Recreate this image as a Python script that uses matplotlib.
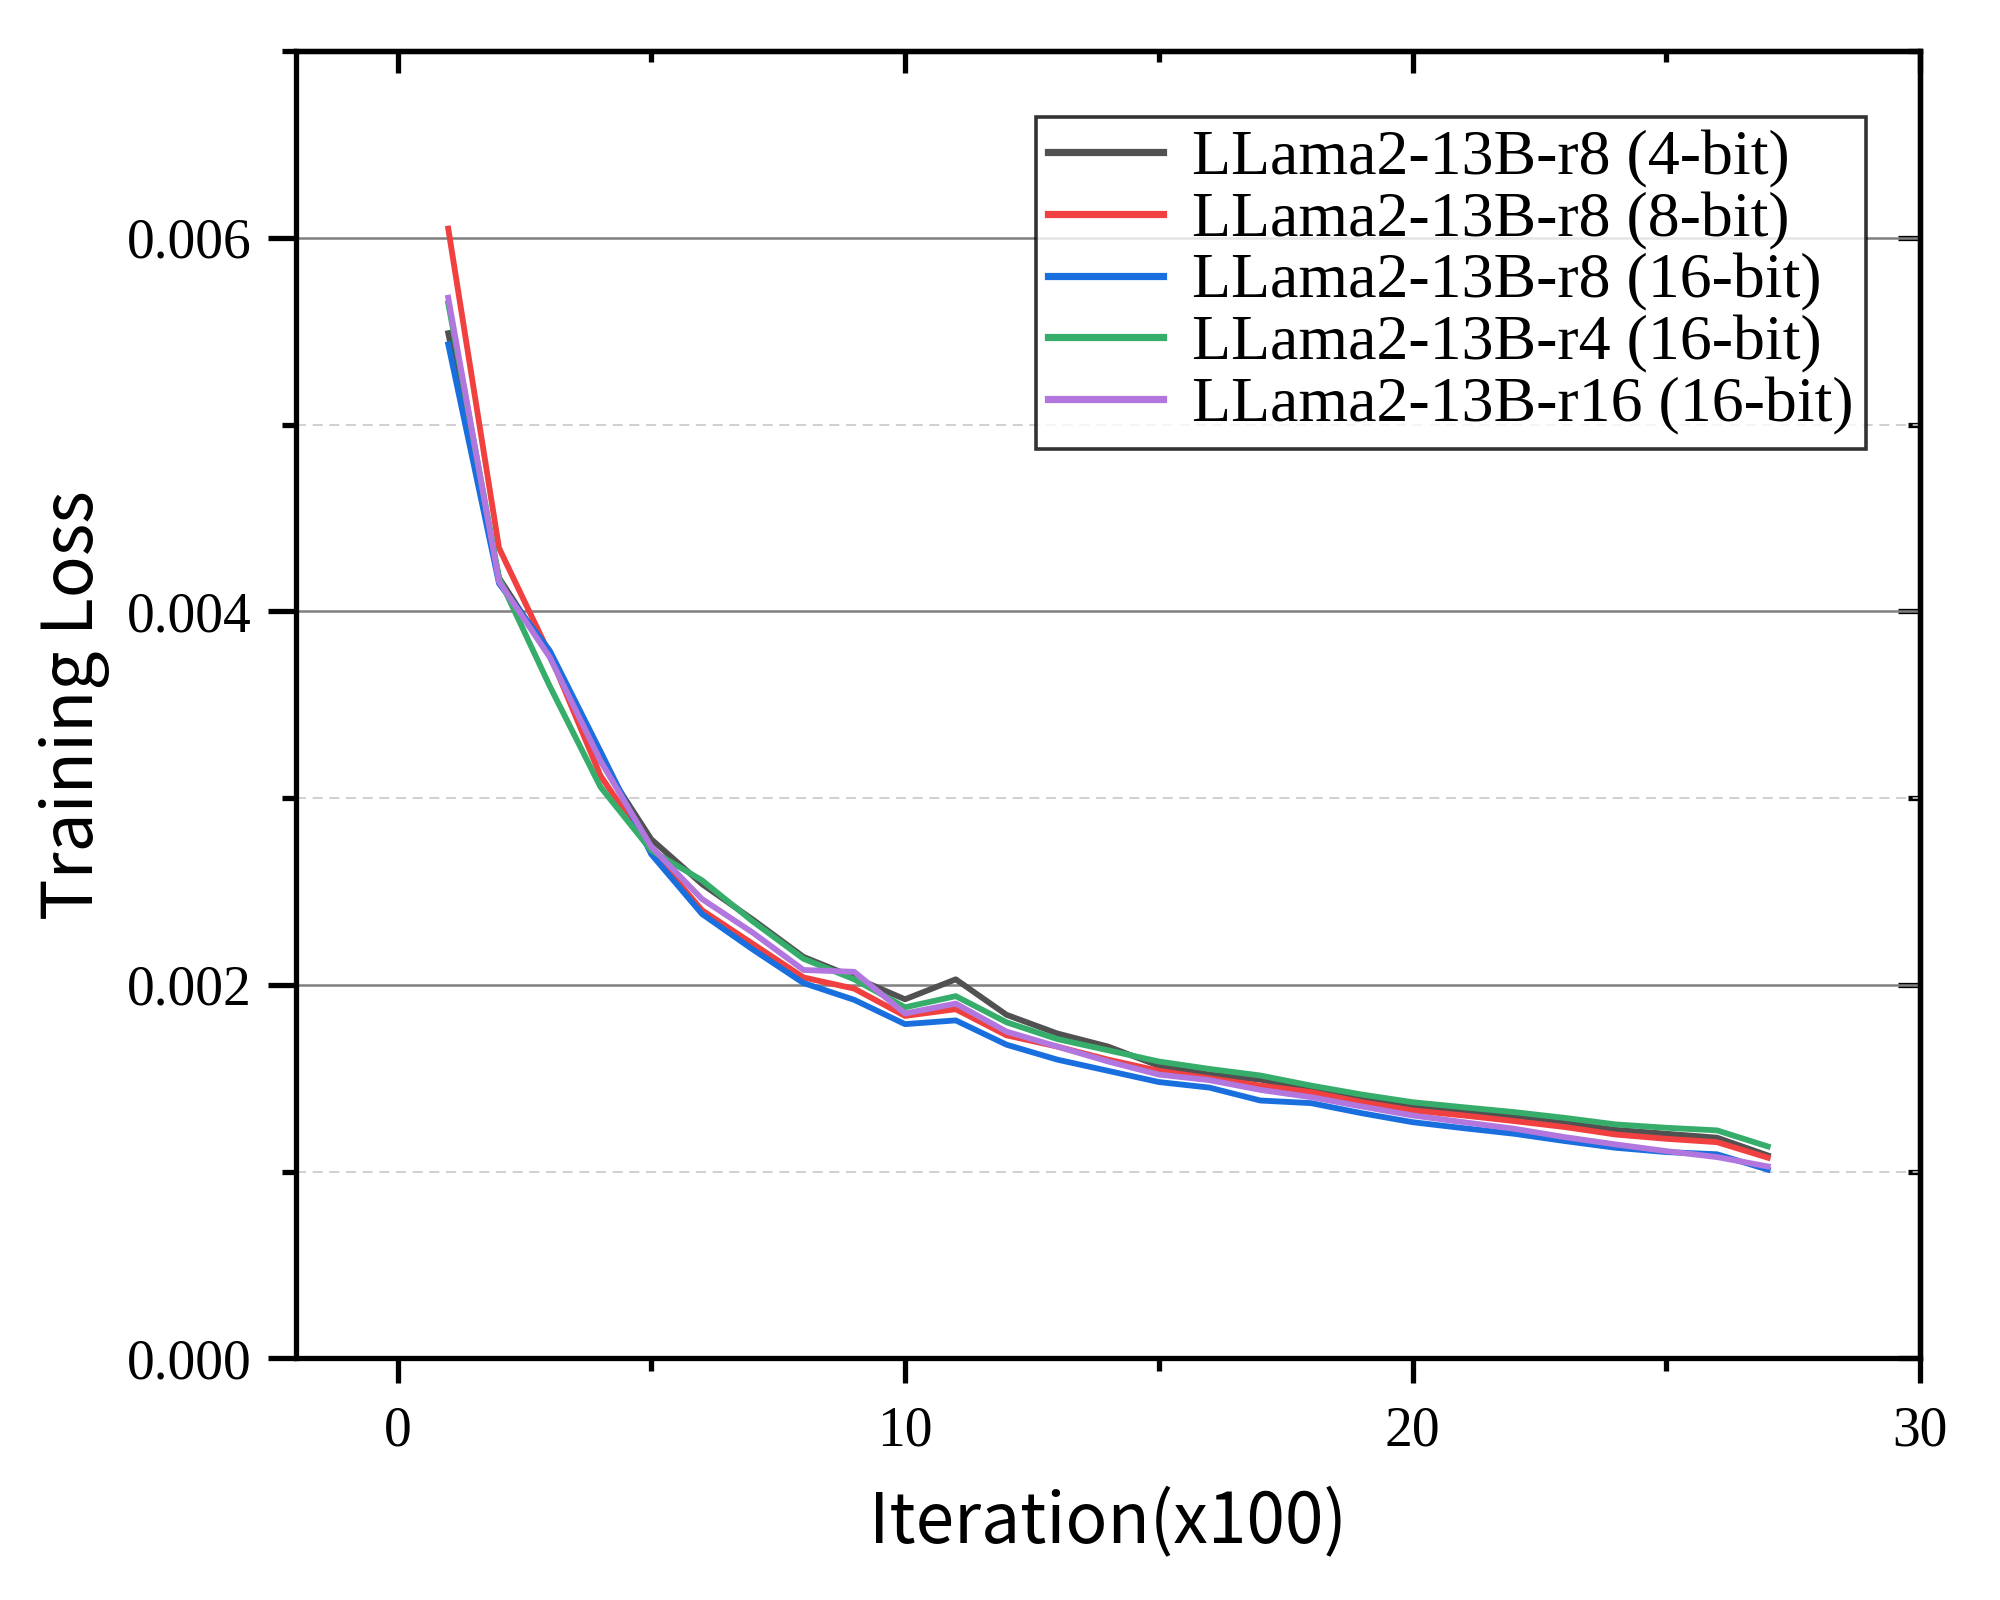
import numpy as np
import matplotlib
matplotlib.use("Agg")
import matplotlib.pyplot as plt
from matplotlib.ticker import MultipleLocator, FuncFormatter

# iterations (x100)
iters = list(range(1, 28))

# training loss
loss_r8_4bit = [5.49, 4.18, 3.76, 3.20, 2.78, 2.54, 2.35, 2.15, 2.04, 1.923, 2.03, 1.84, 1.74, 1.67,
                1.567, 1.52, 1.493, 1.438, 1.385, 1.349, 1.319, 1.292, 1.260, 1.224, 1.203, 1.182, 1.087]
loss_r8_8bit = [6.05, 4.34, 3.77, 3.12, 2.72, 2.40, 2.22, 2.04, 1.98, 1.834, 1.87, 1.73, 1.67, 1.60,
                1.54, 1.50, 1.461, 1.426, 1.372, 1.328, 1.301, 1.271, 1.239, 1.199, 1.176, 1.158, 1.075]
loss_r8_16bit = [5.43, 4.15, 3.79, 3.25, 2.70, 2.38, 2.19, 2.01, 1.92, 1.79, 1.81, 1.68, 1.60, 1.54,
                 1.48, 1.45, 1.381, 1.367, 1.313, 1.265, 1.233, 1.203, 1.164, 1.128, 1.105, 1.093, 1.011]
loss_r4_16bit = [5.65, 4.18, 3.60, 3.06, 2.72, 2.56, 2.34, 2.14, 2.03, 1.88, 1.94, 1.80, 1.71, 1.65,
                 1.59, 1.55, 1.515, 1.461, 1.413, 1.372, 1.345, 1.319, 1.288, 1.253, 1.235, 1.221, 1.135]
loss_r16_16bit = [5.68, 4.16, 3.755, 3.20, 2.74, 2.46, 2.28, 2.08, 2.07, 1.847, 1.90, 1.75, 1.67, 1.59,
                  1.52, 1.49, 1.438, 1.399, 1.349, 1.301, 1.265, 1.230, 1.185, 1.146, 1.110, 1.078, 1.028]

labels = ["LLama2-13B-r8 (4-bit)", "LLama2-13B-r8 (8-bit)", "LLama2-13B-r8 (16-bit)",
          "LLama2-13B-r4 (16-bit)", "LLama2-13B-r16 (16-bit)"]
colors = ["#515151", "#F14040", "#1A6FDF", "#37AD6B", "#B177DE"]

serif = ["Liberation Serif", "DejaVu Serif"]
sans = ["Noto Sans CJK SC", "DejaVu Sans"]

fig = plt.figure(figsize=(10, 8), dpi=200)
ax = fig.add_axes([0.148, 0.151, 0.812, 0.817])

series = [loss_r8_4bit, loss_r8_8bit, loss_r8_16bit, loss_r4_16bit, loss_r16_16bit]
for s, lab, c in zip(series, labels, colors):
    ax.plot(iters, np.array(s) * 1e-3, color=c, lw=2.1, label=lab)

ax.set_xlim(-2, 30)
ax.set_ylim(0, 0.007)

ax.xaxis.set_major_locator(MultipleLocator(10))
ax.xaxis.set_minor_locator(MultipleLocator(5))
ax.yaxis.set_major_locator(MultipleLocator(0.002))
ax.yaxis.set_minor_locator(MultipleLocator(0.001))
ax.yaxis.set_major_formatter(FuncFormatter(lambda v, p: "%.3f" % v))

# grid only horizontal
ax.grid(which="major", axis="y", color="#808080", lw=0.9, ls="-")
ax.grid(which="minor", axis="y", color="#c8c8c8", lw=0.6, ls=(0, (6, 4)))
ax.set_axisbelow(True)

for sp in ax.spines.values():
    sp.set_linewidth(1.9)

ax.tick_params(axis="x", which="major", direction="out", length=9, width=1.9, pad=8,
               top=False, labelsize=20)
ax.tick_params(axis="x", which="minor", direction="out", length=4.5, width=1.9, top=False)
ax.tick_params(axis="y", which="major", direction="out", length=10, width=1.9, pad=6,
               right=False, labelsize=20)
ax.tick_params(axis="y", which="minor", direction="out", length=5, width=1.9, right=False)
for t in ax.get_xticklabels() + ax.get_yticklabels():
    t.set_family(serif)

# inward ticks on top and right
top = ax.secondary_xaxis("top")
top.set_xticks([0, 10, 20, 30])
top.xaxis.set_minor_locator(MultipleLocator(5))
top.tick_params(which="major", direction="in", length=8, width=1.9, labeltop=False)
top.tick_params(which="minor", direction="in", length=4, width=1.9)
top.spines["top"].set_linewidth(1.9)
right = ax.secondary_yaxis("right")
right.yaxis.set_major_locator(MultipleLocator(0.002))
right.yaxis.set_minor_locator(MultipleLocator(0.001))
right.tick_params(which="major", direction="in", length=8, width=1.9, labelright=False)
right.tick_params(which="minor", direction="in", length=4.5, width=1.9)
right.spines["right"].set_linewidth(1.9)

ax.set_xlabel("Iteration(x100)", family=sans, fontsize=25, labelpad=11)
ax.set_ylabel("Training Loss", family=sans, fontsize=25, labelpad=6)

leg = ax.legend(loc="upper right", bbox_to_anchor=(0.967, 0.95), borderaxespad=0,
                prop={"family": serif, "size": 23}, frameon=True, fancybox=False,
                edgecolor="black", handlelength=1.8, handletextpad=0.45,
                labelspacing=0.05, borderpad=0.2)
leg.get_frame().set_linewidth(1.3)
for ln in leg.get_lines():
    ln.set_linewidth(2.6)

fig.savefig("out.png", dpi=200, facecolor="white")
